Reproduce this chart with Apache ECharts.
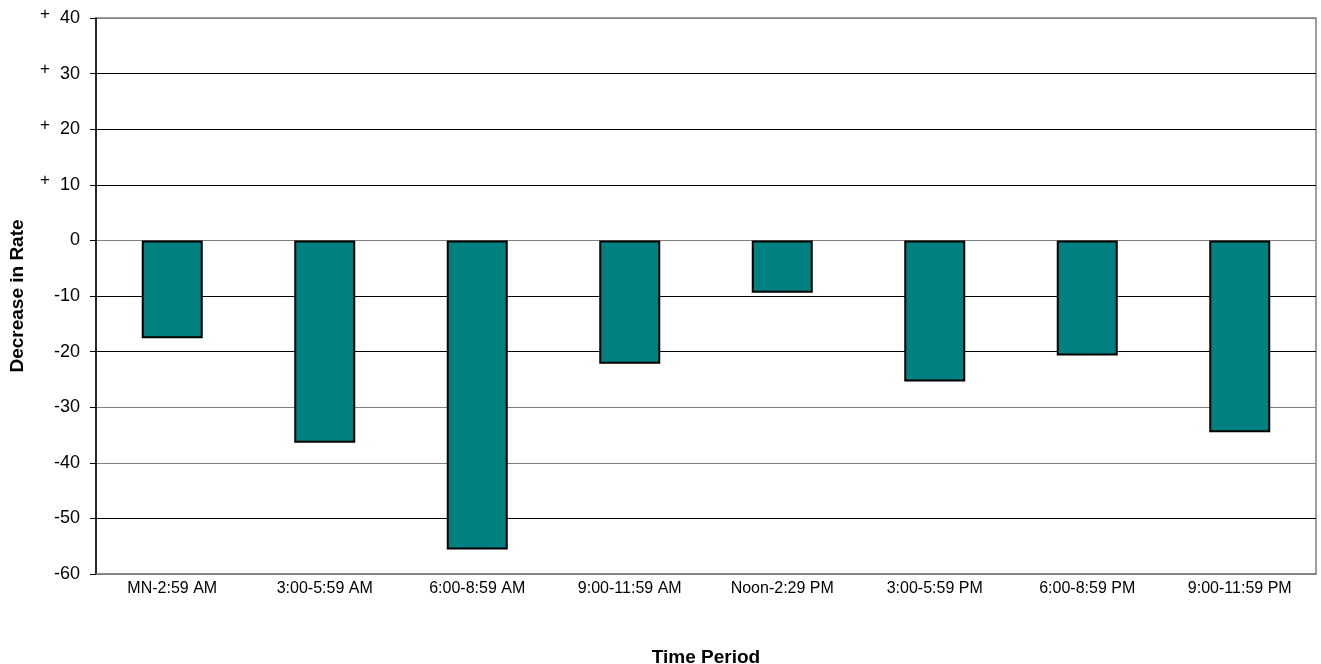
<!DOCTYPE html>
<html>
<head>
<meta charset="utf-8">
<script src="https://cdn.jsdelivr.net/npm/echarts@6/dist/echarts.min.js"></script>
<style>
html,body{margin:0;padding:0;background:#fff;overflow:hidden;}
#chart{width:1321px;height:664px;}
</style>
</head>
<body>
<div id="chart"></div>
<script>
const categories = ["MN-2:59 AM","3:00-5:59 AM","6:00-8:59 AM","9:00-11:59 AM","Noon-2:29 PM","3:00-5:59 PM","6:00-8:59 PM","9:00-11:59 PM"];
const values = [-17.6, -36.4, -55.6, -22.2, -9.4, -25.4, -20.7, -34.5];
const yTicks = {min: -60, max: 40, interval: 10};
const xTitle = "Time Period";
const yTitle = "Decrease in Rate";

const el = document.getElementById('chart');
const chart = echarts.init(el, null, {renderer: 'canvas', width: 1321, height: 664});
const font = '"Liberation Sans", Arial, sans-serif';
chart.setOption({
  animation: false,
  backgroundColor: '#fff',
  grid: {left: 96, right: 5, top: 18, bottom: 90, containLabel: false, outerBoundsMode: 'none', show: true, borderColor: '#808080', borderWidth: 1.5, backgroundColor: 'transparent'},
  xAxis: {
    type: 'category',
    data: categories,
    name: xTitle,
    nameLocation: 'middle',
    nameGap: 74,
    nameTextStyle: {fontFamily: font, fontWeight: 'bold', fontSize: 19, color: '#000'},
    axisLine: {show: true, onZero: false, lineStyle: {color: '#808080', width: 1.5}},
    axisTick: {show: false},
    axisLabel: {fontFamily: font, fontSize: 16, color: '#000', margin: 7, interval: 0},
    splitLine: {show: false}
  },
  yAxis: {
    type: 'value',
    min: yTicks.min, max: yTicks.max, interval: yTicks.interval,
    name: yTitle,
    nameLocation: 'middle',
    nameGap: 69,
    nameTextStyle: {fontFamily: font, fontWeight: 'bold', fontSize: 19, color: '#000'},
    axisLine: {show: true, lineStyle: {color: '#000', width: 1.5}},
    axisTick: {show: true, length: 6, inside: false, lineStyle: {color: '#000'}},
    axisLabel: {
      fontFamily: font, fontSize: 18, color: '#000', margin: 16,
      formatter: function (v) { return v > 0 ? '{p|+}  ' + v : String(v); },
      rich: {p: {fontFamily: font, fontSize: 17, color: '#000', padding: [0, 0, 8, 0]}}
    },
    splitLine: {show: true, lineStyle: {color: ['#808080','#000','#808080','#808080','#000','#000','#808080','#000','#000','#000','#808080'], width: 1}}
  },
  series: [{
    type: 'bar',
    data: values,
    barWidth: '40%',
    itemStyle: {color: '#008080', borderColor: '#000', borderWidth: 2}
  }]
});
</script>
</body>
</html>
